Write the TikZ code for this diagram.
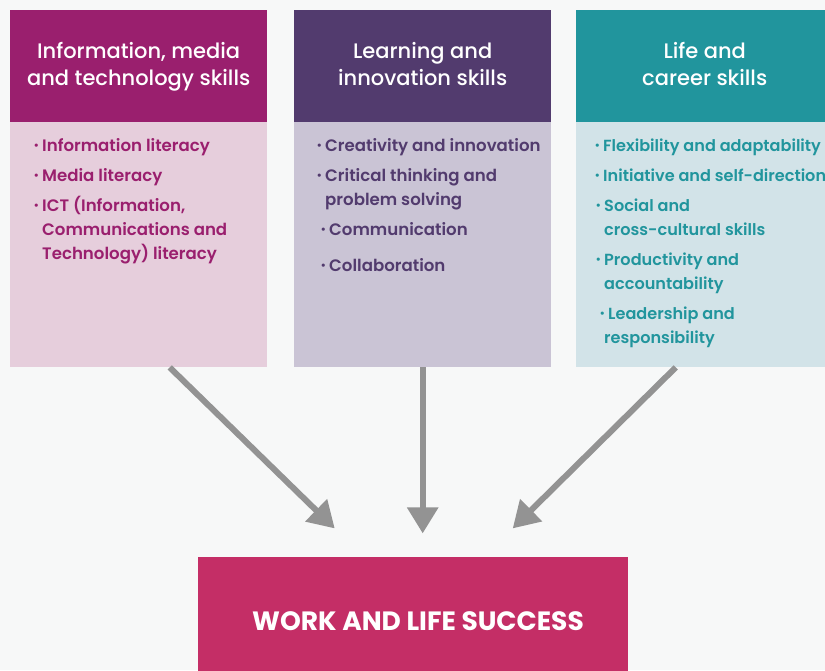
\documentclass[tikz,border=0pt]{standalone}
\usepackage{fontspec}
\setmainfont{Poppins}
\newfontfamily\medfont{Poppins Medium}
\newfontfamily\semifont{Poppins SemiBold}
\usetikzlibrary{arrows.meta, positioning}
\definecolor{bgcol}{HTML}{F7F8F8}
\definecolor{plum}{HTML}{9A1F6E}
\definecolor{plumlight}{HTML}{E6CEDC}
\definecolor{grape}{HTML}{523B6E}
\definecolor{grapelight}{HTML}{CAC4D5}
\definecolor{teal}{HTML}{21959D}
\definecolor{teallight}{HTML}{D2E3E8}
\definecolor{goalcol}{HTML}{C42E66}
\definecolor{arrowgray}{HTML}{939393}
\newcommand{\bul}{\llap{\raisebox{1.9pt}{\fontsize{11.5}{11.5}\selectfont\textbullet}\hspace{3pt}}}
\newcommand{\lines}[1]{\begin{tabular}[t]{@{}l@{}}#1\end{tabular}}
\newcommand{\headtext}[1]{\begin{tabular}{@{}c@{}}#1\end{tabular}}
\tikzset{>={Triangle[width=30pt,length=26pt]}}

\begin{document}
\begin{tikzpicture}[x=1pt, y=-1pt,
    head/.style = {anchor=north west, minimum width=257pt, minimum height=112pt,
        inner sep=0pt, text=white,
        font=\medfont\fontsize{21}{27}\selectfont},
    body/.style = {anchor=north west, minimum width=257pt, minimum height=245pt,
        inner sep=0pt},
    item/.style = {anchor=base west, inner sep=0pt,
        font=\semifont\fontsize{16.6}{24}\selectfont},
    arr/.style = {->, draw=arrowgray, line width=6pt}
  ]
  \useasboundingbox (0,0) rectangle (825,670);
  \clip (0,0) rectangle (825,670);
  \fill[bgcol] (0,0) rectangle (825,670);

  % three skill groups
  \node[body, fill=plumlight] (lbody) at (10,122) {};
  \node[head, fill=plum] (lhead) at (10,10) {\headtext{Information, media\\and technology skills}};
  \node[body, fill=grapelight] (mbody) at (294,122) {};
  \node[head, fill=grape] (mhead) at (294,10) {\headtext{Learning and\\innovation skills}};
  \node[body, fill=teallight] (rbody) at (576,122) {};
  \node[head, fill=teal] (rhead) at (576,10) {\headtext{Life and\\career skills}};

  % left list
  \begin{scope}[every node/.style={item, text=plum}]
    \node (l1) at (42,151) {\bul Information literacy};
    \node (l2) at (42,181) {\bul Media literacy};
    \node (l3) at (42,211) {\bul\lines{ICT (Information,\\Communications and\\Technology) literacy}};
  \end{scope}

  % middle list
  \begin{scope}[every node/.style={item, text=grape}]
    \node (m1) at (325,151) {\bul Creativity and innovation};
    \node (m2) at (325,181) {\bul\lines{Critical thinking and\\problem solving}};
    \node (m3) at (329,235) {\bul Communication};
    \node (m4) at (329,271) {\bul Collaboration};
  \end{scope}

  % right list
  \begin{scope}[every node/.style={item, text=teal, font=\semifont\fontsize{16.1}{24}\selectfont}]
    \node (r1) at (603,151) {\bul Flexibility and adaptability};
    \node (r2) at (603,181) {\bul Initiative and self-direction};
    \node (r3) at (604,211) {\bul\lines{Social and\\cross-cultural skills}};
    \node (r4) at (604,265) {\bul\lines{Productivity and\\accountability}};
    \node (r5) at (604,319) {\lines{\hspace*{4pt}\bul Leadership and\\responsibility}};
  \end{scope}

  % goal
  \node[anchor=north west, fill=goalcol, minimum width=430pt, minimum height=125pt,
    inner sep=0pt] (goal) at (198,557) {};
  \node[text=white, font=\bfseries\fontsize{26.5}{26.5}\selectfont, anchor=base]
    (goaltxt) at (418,630) {WORK AND LIFE SUCCESS};

  \coordinate (ltip) at ([xshift=-88pt, yshift=-161pt]mbody.south);
  \coordinate (mtip) at ([yshift=-166pt]mbody.south);
  \coordinate (rtip) at ([xshift=90pt, yshift=-161pt]mbody.south);

  \draw[arr] ([xshift=31pt]lbody.south) -- (ltip);
  \draw[arr] (mbody.south) -- (mtip);
  \draw[arr] ([xshift=-29pt]rbody.south) -- (rtip);
\end{tikzpicture}
\end{document}
